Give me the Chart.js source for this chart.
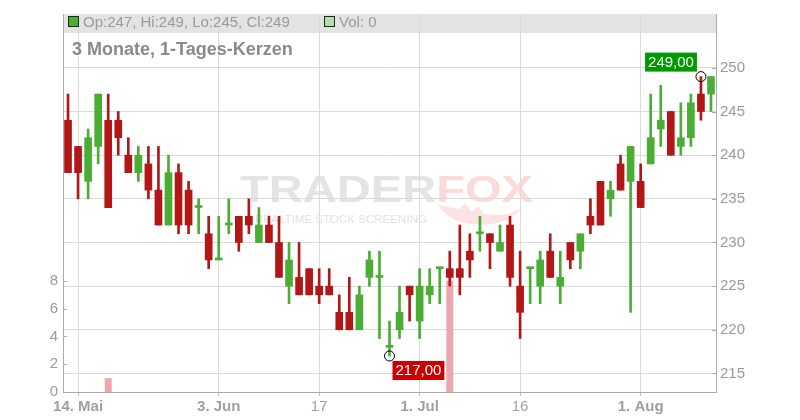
<!DOCTYPE html>
<html>
<head>
<meta charset="utf-8">
<script src="https://cdn.jsdelivr.net/npm/chart.js@4"></script>
<style>
  html, body { margin: 0; padding: 0; background: #fff; }
  #wrap { width: 800px; height: 420px; position: relative; }
</style>
</head>
<body>
<div id="wrap"><canvas id="chart"></canvas></div>
<script>
// Handelstage (Kategorien)
const days = [
  '13.05','14.05','15.05','16.05','17.05','20.05','21.05','22.05','23.05','24.05',
  '27.05','28.05','29.05','30.05','31.05','03.06','04.06','05.06','06.06','07.06',
  '10.06','11.06','12.06','13.06','14.06','17.06','18.06','19.06','20.06','21.06',
  '24.06','25.06','26.06','27.06','28.06','01.07','02.07','03.07','05.07','08.07',
  '09.07','10.07','11.07','12.07','15.07','16.07','17.07','18.07','19.07','22.07',
  '23.07','24.07','25.07','26.07','29.07','30.07','31.07','01.08','02.08','05.08',
  '06.08','07.08','08.08','09.08','12.08'
];

const opens = [
  244, 241, 237, 241, 244, 244, 240, 238, 239, 236,
  232, 238, 236, 234, 231, 228, 232, 233, 233, 230,
  232, 230, 225, 226, 227, 225, 225, 222, 222, 220,
  226, 226, 218, 220, 225, 221, 224, 227, 227, 227,
  229, 231, 231, 229, 232, 225, 227, 225, 229, 225,
  230, 229, 233, 237, 235, 239, 237, 237, 239, 243,
  245, 241, 242, 247, 247
];
const highs = [
  247, 241, 243, 247, 247, 245, 242, 241, 241, 241,
  240, 239, 237, 235, 233, 233, 235, 233, 235, 234,
  233, 233, 230, 230, 227, 227, 227, 224, 226, 225,
  229, 229, 221, 225, 225, 227, 227, 227, 229, 232,
  231, 233, 231, 232, 233, 229, 227, 229, 231, 229,
  230, 231, 235, 237, 237, 240, 241, 239, 247, 248,
  245, 246, 247, 249, 249
];
const lows = [
  238, 235, 235, 239, 234, 240, 238, 237, 235, 232,
  232, 231, 231, 231, 227, 228, 231, 229, 231, 230,
  230, 226, 223, 224, 224, 223, 224, 220, 220, 220,
  225, 219, 217, 219, 221, 219, 223, 223, 225, 224,
  226, 229, 227, 229, 225, 219, 223, 223, 226, 223,
  227, 227, 231, 232, 233, 236, 222, 234, 239, 241,
  240, 240, 241, 244, 245
];
const closes = [
  238, 238, 242, 247, 234, 242, 238, 240, 236, 232,
  238, 232, 232, 234, 228, 228, 232, 230, 232, 232,
  230, 226, 228, 224, 224, 224, 224, 220, 220, 224,
  228, 226, 218, 222, 224, 225, 225, 227, 226, 226,
  228, 231, 230, 230, 226, 222, 227, 228, 226, 226,
  228, 231, 232, 232, 236, 236, 241, 234, 242, 244,
  240, 242, 246, 245, 249
];
const volumes = [
  0, 0, 0, 0, 1, 0, 0, 0, 0, 0,
  0, 0, 0, 0, 0, 0, 0, 0, 0, 0,
  0, 0, 0, 0, 0, 0, 0, 0, 0, 0,
  0, 0, 0, 0, 0, 0, 0, 0, 8, 0,
  0, 0, 0, 0, 0, 0, 0, 0, 0, 0,
  0, 0, 0, 0, 0, 0, 0, 0, 0, 0,
  0, 0, 0, 0, 0
];

// Beschriftungen der Zeitachse
const xTickLabels = {
  '14.05': '14. Mai', '03.06': '3. Jun', '17.06': '17',
  '01.07': '1. Jul', '16.07': '16', '01.08': '1. Aug'
};
const priceTicks = [215, 220, 225, 230, 235, 240, 245, 250];
const volTicks = [0, 2, 4, 6, 8];

const UP = '#4aae34';
const DOWN = '#b21616';
const UP_VOL = '#b3dfa9';
const DOWN_VOL = '#eea6b0';
const FONT = '"Liberation Sans", Arial, sans-serif';

const isUp = days.map((d, i) => closes[i] >= opens[i]);
const candleColors = isUp.map(u => u ? UP : DOWN);

// Hoch / Tief markieren
const hiIdx = highs.indexOf(Math.max(...highs));
const loIdx = lows.indexOf(Math.min(...lows));
const markers = days.map((d, i) => i === hiIdx ? highs[i] : (i === loIdx ? lows[i] : null));

const fmt = v => v.toFixed(2).replace('.', ',');

const decor = {
  id: 'decor',
  beforeDraw(chart) {
    const { ctx, chartArea: a } = chart;
    ctx.save();
    // graue Kopfzeile
    ctx.fillStyle = '#e3e3e3';
    ctx.fillRect(a.left, a.top, a.right - a.left, 19);

    // Wasserzeichen
    ctx.font = 'bold 37px ' + FONT;
    ctx.textBaseline = 'alphabetic';
    const w1 = ctx.measureText('TRADER').width;
    const w2 = ctx.measureText('FOX').width;
    const sx = 293 / (w1 + w2);
    ctx.save();
    ctx.translate(240, 202);
    ctx.scale(sx, 1);
    ctx.fillStyle = '#e4e4e4';
    ctx.fillText('TRADER', 0, 0);
    ctx.fillStyle = '#fcdada';
    ctx.fillText('FOX', w1, 0);
    ctx.restore();

    ctx.font = '11px ' + FONT;
    const sub = 'REALTIME STOCK SCREENING';
    const ws = ctx.measureText(sub).width;
    ctx.save();
    ctx.translate(255, 223);
    ctx.scale(172 / ws, 1);
    ctx.fillStyle = '#e2e2e2';
    ctx.fillText(sub, 0, 0);
    ctx.restore();

    // Fuchsschwanz
    ctx.fillStyle = '#fce2e2';
    ctx.beginPath();
    ctx.moveTo(438, 205);
    ctx.quadraticCurveTo(452, 228, 492, 224);
    ctx.quadraticCurveTo(512, 221, 522, 208);
    ctx.quadraticCurveTo(505, 218, 484, 214);
    ctx.lineTo(478, 206);
    ctx.lineTo(472, 212);
    ctx.lineTo(465, 203);
    ctx.lineTo(460, 209);
    ctx.quadraticCurveTo(448, 207, 438, 205);
    ctx.fill();
    ctx.restore();
  },
  afterDraw(chart) {
    const { ctx, chartArea: a, scales } = chart;
    ctx.save();

    // kleine Striche an den Achsen (nach innen)
    ctx.strokeStyle = '#aaaaaa';
    ctx.lineWidth = 1;
    priceTicks.forEach(v => {
      const y = Math.round(scales.y.getPixelForValue(v)) + 0.5;
      ctx.beginPath(); ctx.moveTo(a.right - 4, y); ctx.lineTo(a.right, y); ctx.stroke();
    });
    volTicks.forEach(v => {
      const y = Math.round(scales.yVol.getPixelForValue(v)) + 0.5;
      ctx.beginPath(); ctx.moveTo(a.left, y); ctx.lineTo(a.left + 4, y); ctx.stroke();
    });

    // Kopfzeile: OHLC des letzten Tages
    const last = days.length - 1;
    ctx.fillStyle = isUp[last] ? UP : DOWN;
    ctx.fillRect(68.5, 16.5, 10, 10);
    ctx.strokeStyle = '#222';
    ctx.strokeRect(68.5, 16.5, 10, 10);
    ctx.fillStyle = isUp[last] ? UP_VOL : DOWN_VOL;
    ctx.fillRect(324.5, 16.5, 10, 10);
    ctx.strokeRect(324.5, 16.5, 10, 10);

    ctx.font = '15px ' + FONT;
    ctx.fillStyle = '#9a9a9a';
    ctx.textBaseline = 'alphabetic';
    ctx.fillText('Op:' + opens[last] + ', Hi:' + highs[last] + ', Lo:' + lows[last] + ', Cl:' + closes[last], 83, 26.5);
    ctx.fillText('Vol: ' + volumes[last], 339, 26.5);

    ctx.font = 'bold 18px ' + FONT;
    ctx.fillStyle = '#8a8a8a';
    ctx.fillText('3 Monate, 1-Tages-Kerzen', 72, 55);

    // Hoch/Tief-Etiketten
    ctx.font = '15px ' + FONT;
    ctx.textBaseline = 'middle';
    const hx = scales.x.getPixelForValue(hiIdx), hy = scales.y.getPixelForValue(highs[hiIdx]);
    const hTxt = fmt(highs[hiIdx]);
    const hw = ctx.measureText(hTxt).width + 6;
    ctx.fillStyle = '#009a00';
    ctx.fillRect(hx - 4 - hw, hy - 24, hw, 19);
    ctx.fillStyle = '#fff';
    ctx.fillText(hTxt, hx - 1 - hw, hy - 14);

    const lx = scales.x.getPixelForValue(loIdx), ly = scales.y.getPixelForValue(lows[loIdx]);
    const lTxt = fmt(lows[loIdx]);
    const lw = ctx.measureText(lTxt).width + 6;
    ctx.fillStyle = '#cc0000';
    ctx.fillRect(lx + 3, ly + 5, lw, 19);
    ctx.fillStyle = '#fff';
    ctx.fillText(lTxt, lx + 6, ly + 15);
    ctx.restore();
  }
};

new Chart(document.getElementById('chart'), {
  type: 'bar',
  data: {
    labels: days,
    datasets: [
      {
        type: 'line',
        data: markers,
        showLine: false,
        pointRadius: 5,
        pointBorderColor: '#000',
        pointBackgroundColor: 'rgba(0,0,0,0)',
        pointBorderWidth: 1,
        yAxisID: 'y',
        order: 1
      },
      {
        data: days.map((d, i) => [opens[i], closes[i]]),
        backgroundColor: candleColors,
        barThickness: 7,
        minBarLength: 2,
        grouped: false,
        yAxisID: 'y',
        order: 2
      },
      {
        data: days.map((d, i) => [lows[i], highs[i]]),
        backgroundColor: candleColors,
        barThickness: 2,
        grouped: false,
        yAxisID: 'y',
        order: 3
      },
      {
        data: volumes,
        backgroundColor: volumes.map((v, i) => v === 0 ? 'rgba(0,0,0,0)' : (isUp[i] ? UP_VOL : DOWN_VOL)),
        barThickness: 7,
        inflateAmount: 0,
        grouped: false,
        yAxisID: 'yVol',
        order: 4
      }
    ]
  },
  options: {
    responsive: true,
    maintainAspectRatio: false,
    animation: false,
    events: [],
    layout: { padding: { top: 11, left: 0, right: 0, bottom: 0 } },
    plugins: { legend: { display: false }, tooltip: { enabled: false } },
    scales: {
      x: {
        offset: true,
        grid: { offset: false, color: '#dadada', tickLength: 4, tickColor: '#bbbbbb' },
        border: { color: '#aaaaaa' },
        afterBuildTicks: s => {
          s.ticks = days.map((d, i) => ({ value: i })).filter(t => xTickLabels[days[t.value]]);
        },
        afterFit: s => { s.height = 28; },
        ticks: {
          autoSkip: false,
          maxRotation: 0,
          padding: 2,
          color: '#a0a0a0',
          callback: v => xTickLabels[days[v]],
          font: c => ({ family: FONT, size: 15, weight: (c.tick && String(c.tick.label).includes('.')) ? 'bold' : 'normal' })
        }
      },
      y: {
        position: 'right',
        min: 212.875,
        max: 256.17,
        grid: { color: '#dadada', drawTicks: false },
        border: { color: '#aaaaaa' },
        afterBuildTicks: s => { s.ticks = priceTicks.map(v => ({ value: v })); },
        afterFit: s => { s.width = 84; },
        ticks: { padding: 4, color: '#9a9a9a', font: { family: FONT, size: 15 } }
      },
      yVol: {
        position: 'left',
        min: 0,
        max: 27.2,
        grid: { display: false, drawTicks: false },
        border: { color: '#aaaaaa' },
        afterBuildTicks: s => { s.ticks = volTicks.map(v => ({ value: v })); },
        afterFit: s => { s.width = 63; },
        ticks: { padding: 5, color: '#9a9a9a', font: { family: FONT, size: 15 } }
      }
    }
  },
  plugins: [decor]
});
</script>
</body>
</html>
